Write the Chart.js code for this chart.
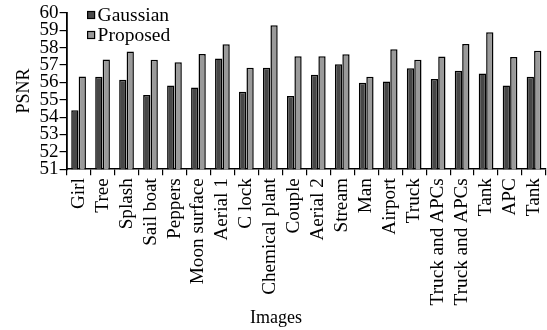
<!DOCTYPE html>
<html>
<head>
<meta charset="utf-8">
<script src="https://cdn.jsdelivr.net/npm/chart.js@4/dist/chart.umd.min.js"></script>
<style>
  html, body { margin: 0; padding: 0; background: #fff; }
  #wrap { width: 547px; height: 330px; position: relative; }
</style>
</head>
<body>
<div id="wrap"><canvas id="c" width="547" height="330"></canvas></div>
<script>
// Test images
const images = ["Girl", "Tree", "Splash", "Sail boat", "Peppers", "Moon surface", "Aerial 1", "C lock",
  "Chemical plant", "Couple", "Aerial 2", "Stream", "Man", "Airport", "Truck", "Truck and APCs",
  "Truck and APCs", "Tank", "APC", "Tank"];

// PSNR (dB) for each method
const gaussian = [54.39, 56.32, 56.15, 55.27, 55.82, 55.71, 57.38, 55.46, 56.84, 55.21,
  56.44, 57.05, 55.98, 56.05, 56.82, 56.19, 56.67, 56.51, 55.82, 56.32];
const proposed = [56.34, 57.32, 57.78, 57.30, 57.16, 57.64, 58.20, 56.84, 59.29, 57.51,
  57.51, 57.62, 56.32, 57.91, 57.30, 57.49, 58.22, 58.89, 57.47, 57.83];

const yTicks = [51, 52, 53, 54, 55, 56, 57, 58, 59, 60];

const serif = "'Liberation Serif', 'Times New Roman', serif";

// Legend inside the plot area (top-left) and the x-axis caption under the labels
const annotations = {
  id: 'annotations',
  afterDraw(chart) {
    const ctx = chart.ctx;
    const area = chart.chartArea;
    ctx.save();
    ctx.font = "19.5px " + serif;
    ctx.textBaseline = 'middle';
    chart.data.datasets.forEach((ds, i) => {
      const y = area.top + 2 + i * 20;
      const x = area.left + 21;
      ctx.fillStyle = ds.backgroundColor;
      ctx.fillRect(x, y - 3.5, 7, 7);
      ctx.strokeStyle = '#000';
      ctx.lineWidth = 1.2;
      ctx.strokeRect(x, y - 3.5, 7, 7);
      ctx.fillStyle = '#000';
      ctx.fillText(ds.label, x + 10, y + 1);
    });
    ctx.font = "18px " + serif;
    ctx.textAlign = 'center';
    ctx.textBaseline = 'alphabetic';
    ctx.fillText('Images', 276, 323);
    ctx.restore();
  }
};

new Chart(document.getElementById('c'), {
  type: 'bar',
  data: {
    labels: images,
    datasets: [
      { label: 'Gaussian', data: gaussian, backgroundColor: '#474747', borderColor: '#000', borderWidth: 1.5 },
      { label: 'Proposed', data: proposed, backgroundColor: '#9a9a9a', borderColor: '#000', borderWidth: 1.5 }
    ]
  },
  options: {
    responsive: false,
    animation: false,
    devicePixelRatio: 1,
    layout: { padding: { top: 13, right: 1, left: 13, bottom: 21.6 } },
    datasets: { bar: { categoryPercentage: 0.62, barPercentage: 0.98 } },
    plugins: {
      legend: { display: false },
      tooltip: { enabled: false }
    },
    scales: {
      x: {
        afterFit(scale) { scale.paddingRight = 0; scale.paddingLeft = 0; },
        grid: { display: true, drawOnChartArea: false, drawTicks: true, tickLength: 6, color: '#000', lineWidth: 1.2 },
        border: { display: true, color: '#000', width: 1.5 },
        ticks: { color: '#000', font: { family: serif, size: 19.2 }, maxRotation: 90, minRotation: 90, autoSkip: false, padding: 3 }
      },
      y: {
        min: 51, max: 60,
        afterBuildTicks(scale) { scale.ticks = yTicks.map(v => ({ value: v })); },
        grid: { display: true, drawOnChartArea: false, drawTicks: true, tickLength: 7, color: '#000', lineWidth: 1.2 },
        border: { display: true, color: '#000', width: 1.8 },
        ticks: { color: '#000', font: { family: serif, size: 19 }, padding: 1, autoSkip: false },
        title: { display: true, text: 'PSNR', color: '#000', font: { family: serif, size: 18 }, padding: { top: 0, bottom: 4 } }
      }
    }
  },
  plugins: [annotations]
});
</script>
</body>
</html>
